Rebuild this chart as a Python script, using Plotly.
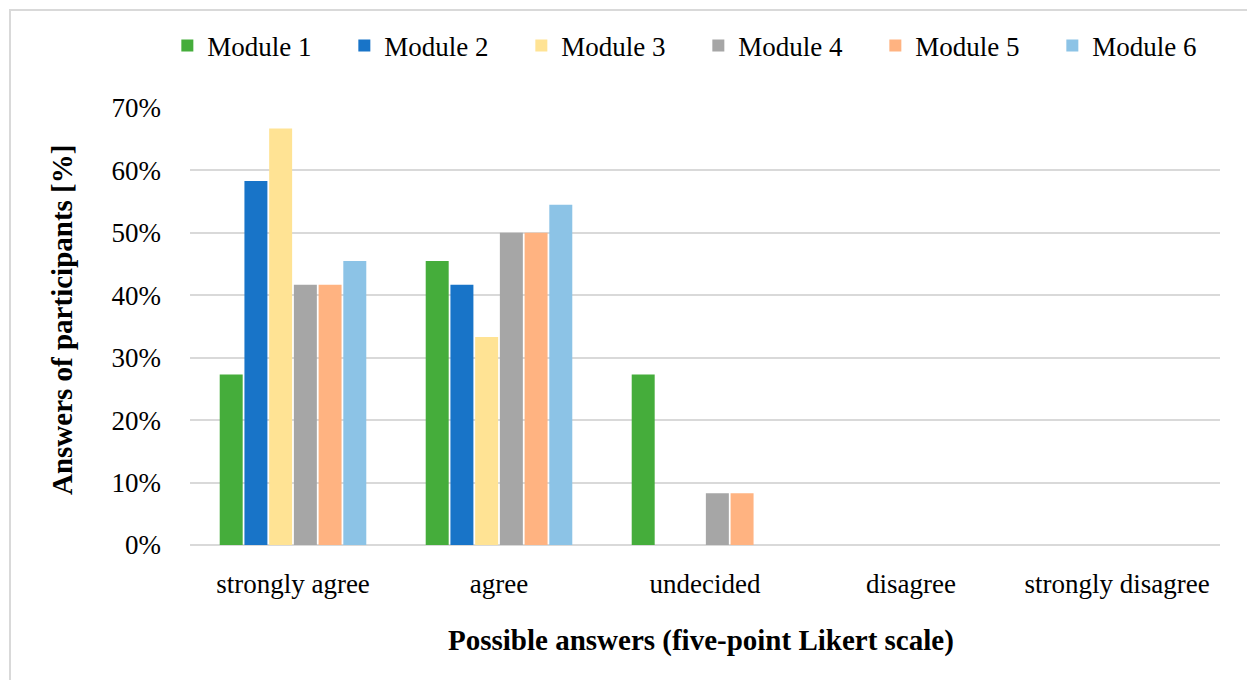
import plotly.graph_objects as go

categories = ["strongly agree", "agree", "undecided", "disagree", "strongly disagree"]
modules = ["Module 1", "Module 2", "Module 3", "Module 4", "Module 5", "Module 6"]
module1 = [0.273, 0.455, 0.273, 0.0, 0.0]
module2 = [0.583, 0.417, 0.0, 0.0, 0.0]
module3 = [0.667, 0.333, 0.0, 0.0, 0.0]
module4 = [0.417, 0.500, 0.083, 0.0, 0.0]
module5 = [0.417, 0.500, 0.083, 0.0, 0.0]
module6 = [0.455, 0.545, 0.0, 0.0, 0.0]
series = [module1, module2, module3, module4, module5, module6]
colors = ["#45AD3B", "#1874C8", "#FFE394", "#A6A6A6", "#FFB381", "#8CC3E6"]

FONT = "Liberation Serif, Times New Roman, serif"

fig = go.Figure()
for name, vals, col in zip(modules, series, colors):
    fig.add_trace(go.Bar(
        x=categories, y=vals, name=name,
        marker=dict(color=col, line=dict(width=0)),
    ))

fig.update_layout(
    width=1247, height=680,
    margin=dict(l=190, r=27, t=108, b=135, autoexpand=False),
    paper_bgcolor="white", plot_bgcolor="white",
    barmode="group", bargap=0.28, bargroupgap=0.07,
    font=dict(family=FONT, size=27, color="#000000"),
    showlegend=True,
    legend=dict(
        orientation="h", x=-0.022, xanchor="left", y=1.142, yanchor="middle",
        entrywidth=132, entrywidthmode="pixels",
        font=dict(family=FONT, size=27), itemwidth=30,
        bgcolor="rgba(0,0,0,0)", tracegroupgap=0,
    ),
    xaxis=dict(
        showgrid=False, showline=False, zeroline=False,
        tickfont=dict(family=FONT, size=27), ticklabelstandoff=20,
    ),
    yaxis=dict(
        range=[0, 0.70], dtick=0.1, tickformat=".0%",
        showgrid=True, gridcolor="#D9D9D9", gridwidth=1.5,
        zeroline=True, zerolinecolor="#D9D9D9", zerolinewidth=1.5,
        showline=False,
        tickfont=dict(family=FONT, size=27), ticklabelstandoff=28,
    ),
    annotations=[
        dict(text="<b>Answers of participants [%]</b>", xref="paper", yref="paper",
             x=(62 - 190) / 1030, y=(545 - 320) / 437, textangle=-90,
             showarrow=False, xanchor="center", yanchor="middle",
             font=dict(family=FONT, size=29)),
        dict(text="<b>Possible answers (five-point Likert scale)</b>", xref="paper", yref="paper",
             x=(701 - 190) / 1030, y=(545 - 640) / 437,
             showarrow=False, xanchor="center", yanchor="middle",
             font=dict(family=FONT, size=29)),
    ],
    shapes=[
        dict(type="rect", xref="paper", yref="paper",
             x0=(10 - 190) / 1030, x1=(1260 - 190) / 1030,
             y0=(545 - 700) / 437, y1=(545 - 10) / 437,
             line=dict(color="#D9D9D9", width=2), layer="below"),
    ],
)

fig.write_html("out.html", config={"displayModeBar": False},
               post_script="document.body.style.margin='0';document.body.style.padding='0';")
